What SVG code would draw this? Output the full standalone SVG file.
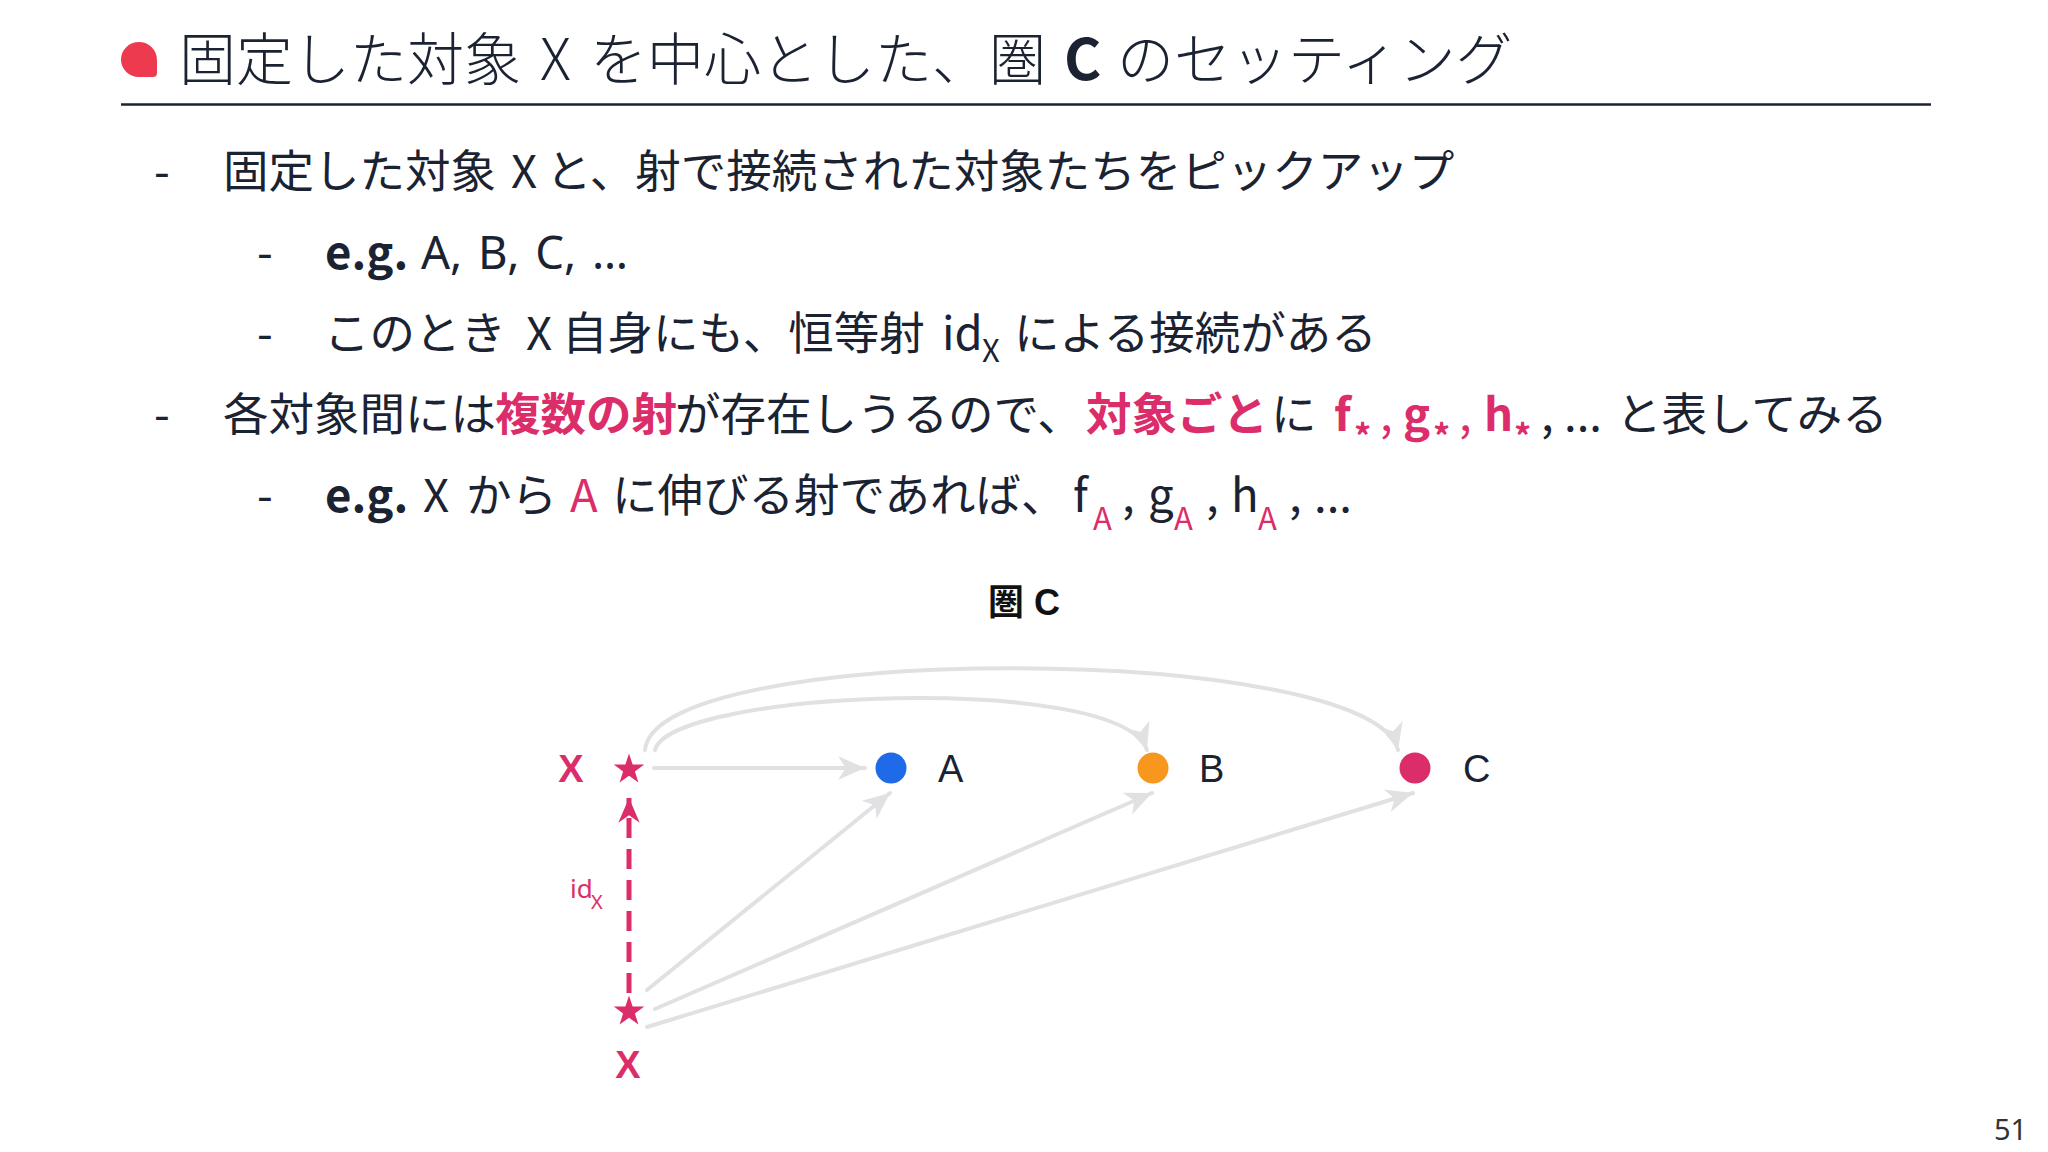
<svg xmlns="http://www.w3.org/2000/svg" width="2048" height="1152" viewBox="0 0 2048 1152">
<style>
.jp{font-family:"Noto Sans CJK JP","Noto Sans",sans-serif;fill:#1b2332}
.title{font-size:57px;font-weight:300}
.body{font-size:45.5px;font-weight:400}
.b{font-weight:700}
.pk{fill:#dc2d6b}
.sub{font-size:31px}
.ast{font-size:34px}
.lat{font-family:"Noto Sans","Noto Sans CJK JP",sans-serif}
.lbl{font-family:"Liberation Sans",Arial,sans-serif;font-size:38px;fill:#1b2332}
.xl{font-family:"Liberation Sans",Arial,sans-serif;font-size:38px;font-weight:700;fill:#dc2d6b}
.edge{fill:none;stroke:#e1e1e4;stroke-width:4;stroke-linecap:round}
.idedge{fill:none;stroke:#dc2d6b;stroke-width:5;stroke-dasharray:20 11}
</style>
<defs>
<marker id="ah" markerUnits="userSpaceOnUse" markerWidth="30" markerHeight="30" viewBox="-26 -12 28 24" refX="0" refY="0" orient="auto">
<path d="M0,0 L-25,-11 L-18,0 L-25,11 Z" fill="#e1e1e4"/>
</marker>
<marker id="ahp" markerUnits="userSpaceOnUse" markerWidth="30" markerHeight="30" viewBox="-26 -12 28 24" refX="0" refY="0" orient="auto">
<path d="M0,0 L-23,-10 L-16,0 L-23,10 Z" fill="#dc2d6b"/>
</marker>
<path id="star" d="M0,-16 L3.64,-5.02 L15.22,-4.94 L5.9,1.92 L9.4,12.94 L0,6.2 L-9.4,12.94 L-5.9,1.92 L-15.22,-4.94 L-3.64,-5.02 Z"/>
</defs>
<rect width="2048" height="1152" fill="#ffffff"/>

<g id="header">
<path d="M139,42 A18,18 0 0 1 157,60 L157,73 Q157,77 153,77 L139,77 A17.5,17.5 0 0 1 121,59.5 A18,17.5 0 0 1 139,42 Z" fill="#ee3a4e"/>
<text class="jp title" y="80"><tspan x="179">固定した対象</tspan><tspan x="540">X</tspan><tspan x="590">を中心とした、</tspan><tspan x="989">圏</tspan><tspan x="1064" font-weight="700">C</tspan><tspan x="1117">のセッティング</tspan></text>
<line x1="121" y1="104.5" x2="1931" y2="104.5" stroke="#1b2332" stroke-width="2.5"/>
</g>

<g id="bullets">
<text class="jp body" y="188"><tspan x="154">-</tspan><tspan x="223">固定した対象</tspan><tspan x="511">X</tspan><tspan x="546">と、射で接続された対象たちをピックアップ</tspan></text>
<text class="jp body" y="269"><tspan x="257">-</tspan><tspan x="325" class="b">e.g.</tspan><tspan x="421" class="lat" word-spacing="4">A, B, C, …</tspan></text>
<text class="jp body" y="350"><tspan x="257">-</tspan><tspan x="324">このとき</tspan><tspan x="526">X</tspan><tspan x="562">自身にも、恒等射</tspan><tspan x="942">id</tspan><tspan x="982" y="362" class="sub">X</tspan><tspan x="1014" y="350">による接続がある</tspan></text>
<text class="jp body" y="431"><tspan x="154">-</tspan><tspan x="223">各対象間には</tspan><tspan x="495" class="b pk">複数の射</tspan><tspan x="675">が存在しうるので、</tspan><tspan x="1086" class="b pk">対象ごと</tspan><tspan x="1271">に</tspan><tspan x="1334" class="b pk">f</tspan><tspan x="1354" y="449" class="ast b pk">*</tspan><tspan x="1380" y="431" class="pk">,</tspan><tspan x="1403" class="b pk">g</tspan><tspan x="1433" y="449" class="ast b pk">*</tspan><tspan x="1459" y="431" class="pk">,</tspan><tspan x="1484" class="b pk">h</tspan><tspan x="1514" y="449" class="ast b pk">*</tspan><tspan x="1541" y="431">,</tspan><tspan x="1564">...</tspan><tspan x="1616">と表してみる</tspan></text>
<text class="jp body" y="512"><tspan x="257">-</tspan><tspan x="325" class="b">e.g.</tspan><tspan x="423">X</tspan><tspan x="466">から</tspan><tspan x="570" class="pk">A</tspan><tspan x="612">に伸びる射であれば、</tspan><tspan x="1073">f</tspan><tspan x="1093" y="530" class="sub pk">A</tspan><tspan x="1122" y="512">,</tspan><tspan x="1148">g</tspan><tspan x="1174" y="530" class="sub pk">A</tspan><tspan x="1206" y="512">,</tspan><tspan x="1231">h</tspan><tspan x="1258" y="530" class="sub pk">A</tspan><tspan x="1289" y="512">,</tspan><tspan x="1314">...</tspan></text>
</g>

<g id="diagram-title">
<text x="1024" y="615" text-anchor="middle" font-family="Liberation Sans, Noto Sans CJK JP, sans-serif" font-size="36" font-weight="700" fill="#111111">圏 C</text>
</g>

<g id="connectors">
<path class="edge" d="M654,768 L865,768" marker-end="url(#ah)"/>
<path class="edge" d="M655,750 C670,690 1120,672 1147,750" marker-end="url(#ah)"/>
<path class="edge" d="M645,750 C655,640 1370,642 1398,750" marker-end="url(#ah)"/>
<path class="edge" d="M647,990 L890,793" marker-end="url(#ah)"/>
<path class="edge" d="M655,1009 L1152,793" marker-end="url(#ah)"/>
<path class="edge" d="M647,1027 L1413,793" marker-end="url(#ah)"/>
<path class="idedge" d="M629,993 L629,798" marker-end="url(#ahp)"/>
<text x="570" y="898" font-family="Noto Sans, sans-serif" font-size="26" fill="#dc2d6b">id<tspan x="591" y="909" font-size="20">X</tspan></text>
</g>

<g id="node-X">
<use href="#star" x="629" y="769.5" fill="#dc2d6b"/>
<text class="xl" x="571" y="782" text-anchor="middle">X</text>
</g>
<g id="node-A">
<circle cx="891" cy="768" r="15.5" fill="#1f6ae8"/>
<text class="lbl" x="938" y="782">A</text>
</g>
<g id="node-B">
<circle cx="1153" cy="768" r="15.5" fill="#f7971d"/>
<text class="lbl" x="1199" y="782">B</text>
</g>
<g id="node-C">
<circle cx="1415" cy="768" r="15.5" fill="#dc2d6b"/>
<text class="lbl" x="1463" y="782">C</text>
</g>
<g id="node-X-source">
<use href="#star" x="629" y="1011.5" fill="#dc2d6b"/>
<text class="xl" x="628" y="1078" text-anchor="middle">X</text>
</g>

<g id="page-number">
<text x="1994" y="1140" font-family="Noto Sans, sans-serif" font-size="29" fill="#333333">51</text>
</g>
</svg>
